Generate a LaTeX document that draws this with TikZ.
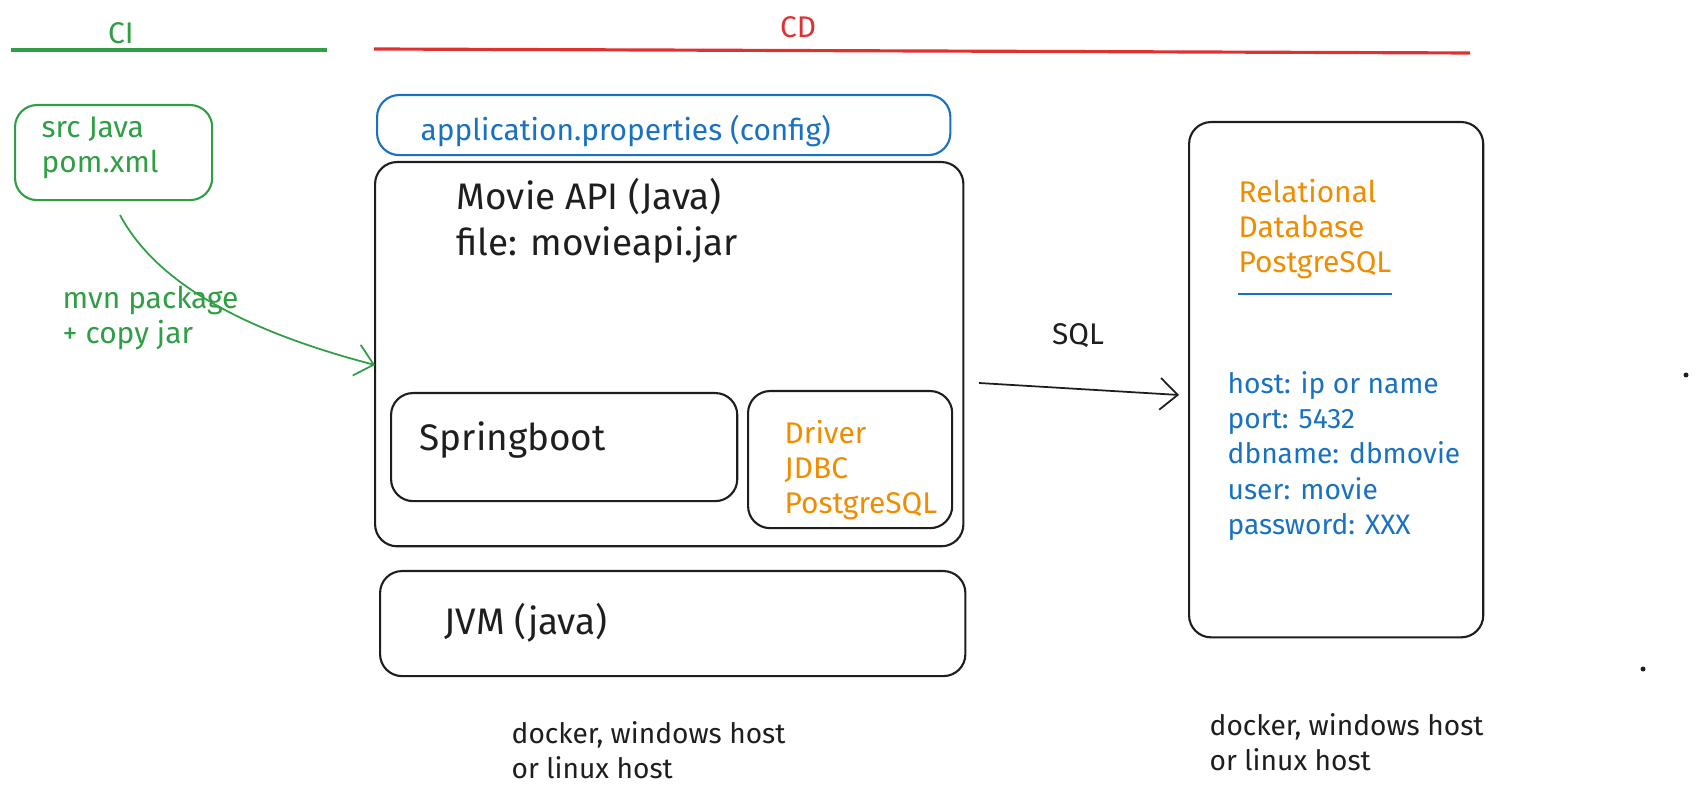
\documentclass[tikz,border=0pt]{standalone}
\usepackage{fontspec}
\setmainfont{Fira Sans}
\usetikzlibrary{arrows.meta,positioning}
\definecolor{cigreen}{HTML}{2F9E44}
\definecolor{cdred}{HTML}{E03131}
\definecolor{cfgblue}{HTML}{1971C2}
\definecolor{dborange}{HTML}{F08C00}
\definecolor{ink}{HTML}{1E1E1E}
\tikzset{
    box/.style={draw=ink,rounded corners=2.2mm,line width=0.6pt,anchor=north west,inner sep=0pt},
    txt/.style={anchor=west,align=left,inner sep=0pt,text=ink,font=\fontsize{8.5}{10}\selectfont},
    smalltxt/.style={txt,font=\fontsize{8}{10}\selectfont},
    bigtxt/.style={txt,font=\fontsize{10.5}{12.2}\selectfont},
    phase/.style={line width=0.9pt},
    flow/.style={-{Straight Barb[length=5pt,width=9pt]},line width=0.5pt}
}

\begin{document}
\begin{tikzpicture}[x=0.01cm,y=-0.01cm]

                \useasboundingbox (0,0) rectangle (1698,795);

                \node[txt,anchor=center,text=cigreen] (ci) at (121,33) {CI};
                \coordinate (ci from) at (11,50);
                \coordinate (ci to)   at (327,50);
                \draw[phase,cigreen] (ci from) -- (ci to);

                \node[txt,anchor=center,text=cdred] (cd) at (798,27) {CD};
                \coordinate (cd from) at (374,49);
                \coordinate (cd to)   at (1470,53);
                \draw[phase,cdred] (cd from) -- (cd to);

                \node[box,draw=cigreen,minimum width=1.97cm,minimum height=0.95cm] (src box) at (14,104) {};
                \node[txt,text=cigreen] (src) at (41,148) {src Java\\pom.xml};

                \node[box,draw=cfgblue,minimum width=5.73cm,minimum height=0.60cm] (cfg box) at (376,94) {};
                \node[txt,text=cfgblue] (cfg) at (420,131) {application.properties (config)};

                \node[box,minimum width=5.88cm,minimum height=3.84cm] (api box) at (374,161) {};
                \node[bigtxt,font=\fontsize{10.5}{13.2}\selectfont] (api) at (456,221) {Movie API (Java)\\file: movieapi.jar};

                \node[box,minimum width=3.46cm,minimum height=1.08cm] (spring box) at (390,392) {};
                \node[bigtxt] (spring) at (419,440) {Springboot};

                \node[box,minimum width=2.04cm,minimum height=1.37cm] (driver box) at (747,390) {};
                \node[txt,text=dborange] (driver) at (784,470) {Driver\\JDBC\\PostgreSQL};

                \node[box,minimum width=5.85cm,minimum height=1.05cm] (jvm box) at (379,570) {};
                \node[bigtxt] (jvm) at (444,623) {JVM (java)};

                \node[box,minimum width=2.94cm,minimum height=5.15cm] (db box) at (1188,121) {};
                \node[txt,text=dborange] (db) at (1238,229) {Relational\\Database\\PostgreSQL};
                \draw[cfgblue,line width=0.7pt] ([yshift=-4pt]db.south west) -- ([yshift=-4pt]db.south east);
                \node[smalltxt,text=cfgblue] (conn) at (1227,456) {host: ip or name\\port: 5432\\dbname: dbmovie\\user: movie\\password: XXX};

                \coordinate (build) at (120,215);
                \coordinate (deploy) at (375,365);
                \draw[flow,cigreen] (build) .. controls (160,290) and (260,335) .. (deploy);
                \node[txt,text=cigreen] (mvn) at (62,318) {mvn package\\+ copy jar};

                \coordinate (sql from) at (979,383);
                \coordinate (sql to) at (1179,395);
                \draw[flow,ink] (sql from) -- (sql to);
                \node[txt,anchor=center] (sql) at (1078,336) {SQL};

                \node[smalltxt] (api host) at (511,750) {docker, windows host\\or linux host};
                \node[smalltxt] (db host) at (1209,742) {docker, windows host\\or linux host};

                \fill[ink] (1686,375) circle (0.025cm);
                \fill[ink] (1643,669) circle (0.025cm);

            \end{tikzpicture}
\end{document}
